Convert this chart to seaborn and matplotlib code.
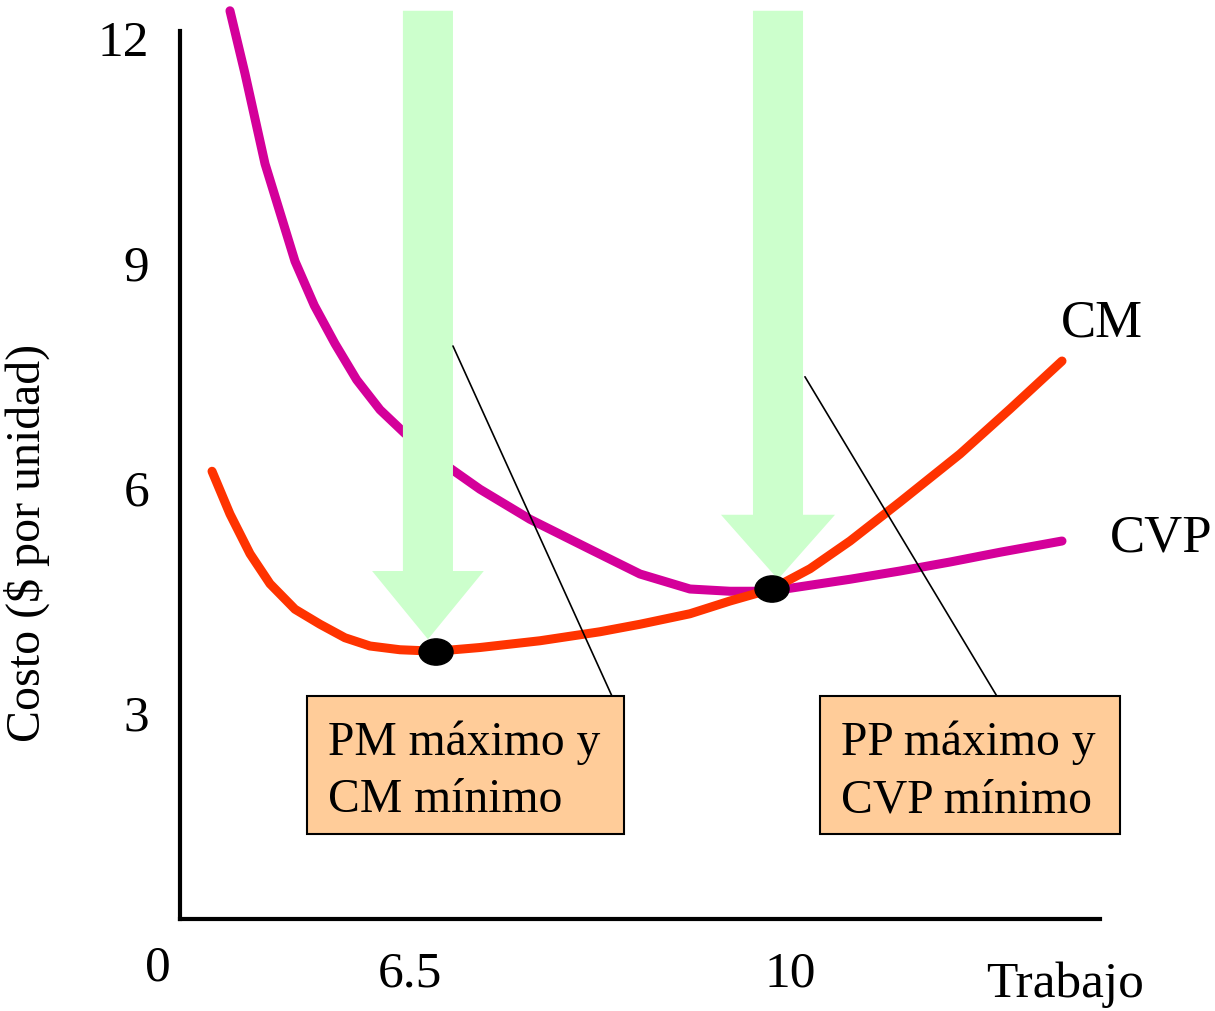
import numpy as np
import pandas as pd
import matplotlib
matplotlib.use("Agg")
import matplotlib.pyplot as plt
from matplotlib.patches import Rectangle, Ellipse
import seaborn as sns

# ---- data (schematic labour axis 0-100, cost in $ per unit) ----
cvp_x = [5.43, 7.07, 9.24, 12.5, 14.6, 16.85, 19.2, 21.74, 24.4, 27.17, 32.61, 38.04, 44.57, 50.0,
         55.43, 59.78, 64.13, 67.39, 72.83, 78.26, 83.70, 89.13, 95.87]
cvp_y = [12.35, 11.51, 10.31, 9.01, 8.42, 7.91, 7.43, 7.03, 6.72, 6.44, 5.97, 5.57, 5.17, 4.84,
         4.64, 4.61, 4.61, 4.67, 4.77, 4.88, 5.0, 5.13, 5.28]
cm_x = [3.48, 5.43, 7.61, 9.78, 12.5, 15.22, 17.93, 20.65, 23.91, 27.83, 32.61,
        39.13, 45.65, 50.0, 55.43, 59.78, 64.35, 68.48, 72.83, 78.26, 84.78, 90.22, 95.87]
cm_y = [6.21, 5.64, 5.11, 4.71, 4.37, 4.17, 3.99, 3.88, 3.83, 3.81, 3.86,
        3.95, 4.07, 4.17, 4.31, 4.48, 4.64, 4.91, 5.28, 5.80, 6.44, 7.04, 7.68]
point_x = [27.83, 64.35]
point_y = [3.80, 4.64]
ytick_vals = [3, 6, 9, 12]
xtick_labels = ["0", "6.5", "10"]
box_texts = ["PM máximo y\nCM mínimo", "PP máximo y\nCVP mínimo"]
curve_labels = ["CM", "CVP"]

sns.set_theme(style="white")
plt.rcParams["font.family"] = ["Liberation Serif", "DejaVu Serif"]
plt.rcParams["text.color"] = "black"
plt.rcParams["axes.labelcolor"] = "black"
plt.rcParams["xtick.color"] = "black"
plt.rcParams["ytick.color"] = "black"

fig = plt.figure(figsize=(12.15, 10.12), dpi=100)
ax = fig.add_axes([180 / 1215, 92 / 1012, 920 / 1215, 920 / 1012])
ax.set_xlim(0, 100)
ax.set_ylim(0.24, 12.507)

MAG = "#D4009A"
RED = "#FF3300"
GREEN = "#CCFFCC"

df_cvp = pd.DataFrame({"x": cvp_x, "y": cvp_y})
df_cm = pd.DataFrame({"x": cm_x, "y": cm_y})

sns.lineplot(data=df_cvp, x="x", y="y", sort=False, ax=ax, color=MAG, lw=6.5,
             solid_capstyle="round", solid_joinstyle="round", zorder=2, clip_on=False)

# arrows
def down_arrow(xc, x_shaft_half, x_head_half, y_top, y_headbase, y_tip):
    xs = [xc - x_shaft_half, xc + x_shaft_half, xc + x_shaft_half, xc + x_head_half,
          xc, xc - x_head_half, xc - x_shaft_half]
    ys = [y_top, y_top, y_headbase, y_headbase, y_tip, y_headbase, y_headbase]
    ax.fill(xs, ys, color=GREEN, lw=0, zorder=3, clip_on=False)

down_arrow(26.95, 2.72, 6.07, 12.35, 4.88, 3.97)
down_arrow(65.0, 2.72, 6.2, 12.35, 5.63, 4.77)

sns.lineplot(data=df_cm, x="x", y="y", sort=False, ax=ax, color=RED, lw=6.5,
             solid_capstyle="round", solid_joinstyle="round", zorder=4, clip_on=False)

for px, py in zip(point_x, point_y):
    ax.add_patch(Ellipse((px, py), 3.7, 0.35, color="black", zorder=6))

# leader lines
ax.plot([29.67, 46.96], [7.88, 3.21], color="black", lw=1.2, zorder=5)
ax.plot([67.93, 88.8], [7.47, 3.21], color="black", lw=1.2, zorder=5)

# boxes
for (x0, x1), txt, tx in zip([(13.8, 48.26), (69.57, 102.17)], box_texts, [16.1, 71.8]):
    ax.add_patch(Rectangle((x0, 1.37), x1 - x0, 3.21 - 1.37, facecolor="#FFCC99",
                           edgecolor="black", lw=1.5, zorder=5, clip_on=False))
    ax.text(tx, 2.22, txt, ha="left", va="center", fontsize=34.3, linespacing=1.37,
            zorder=6, clip_on=False)

# curve labels
ax.text(100.2, 8.2, curve_labels[0], ha="center", va="center", fontsize=38)
ax.text(106.7, 5.33, curve_labels[1], ha="center", va="center", fontsize=38)

# axes styling
for s in ["top", "right"]:
    ax.spines[s].set_visible(False)
for s in ["left", "bottom"]:
    ax.spines[s].set_color("black")
    ax.spines[s].set_linewidth(3)
ax.spines["left"].set_bounds(0.24, 12.08)

ax.set_yticks(ytick_vals)
ax.set_yticklabels([str(v) for v in ytick_vals], fontsize=37)
ax.tick_params(axis="y", length=0, pad=22)
ax.set_xticks([25.0, 66.3])
ax.set_xticklabels(xtick_labels[1:], fontsize=37)
ax.tick_params(axis="x", length=0, pad=22)
ax.text(-2.4, -0.4, xtick_labels[0], ha="center", va="center", fontsize=37, clip_on=False)

ax.set_xlabel("")
ax.set_ylabel("Costo ($ por unidad)", fontsize=34.5)
ax.yaxis.set_label_coords(-0.141, 0.41)
ax.text(96.2, -0.62, "Trabajo", ha="center", va="center", fontsize=37, clip_on=False)

ax.grid(False)
fig.savefig("out.png", dpi=100)
